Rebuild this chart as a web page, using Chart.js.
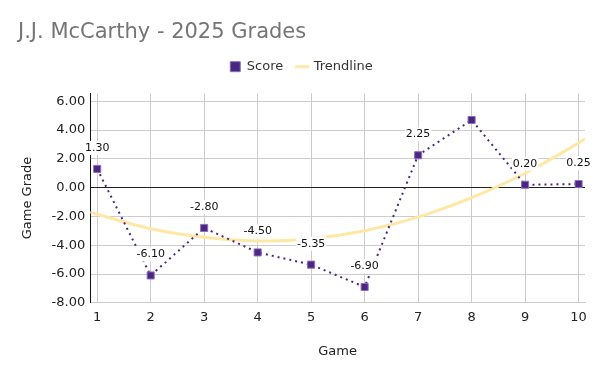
<!DOCTYPE html>
<html>
<head>
<meta charset="utf-8">
<script src="https://cdn.jsdelivr.net/npm/chart.js@4"></script>
<style>
  html, body { margin: 0; padding: 0; background: #fff; }
  #wrap { width: 603px; height: 376px; }
</style>
</head>
<body>
<div id="wrap"><canvas id="grafico"></canvas></div>
<script>
// Dados
const games = [1, 2, 3, 4, 5, 6, 7, 8, 9, 10];
const scores = [1.30, -6.10, -2.80, -4.50, -5.35, -6.90, 2.25, 4.70, 0.20, 0.25];
const scoreLabels = ["1.30", "-6.10", "-2.80", "-4.50", "-5.35", "-6.90", "2.25", "", "0.20", "0.25"];
const trendGames = [0.87, 1, 2, 3, 4, 5, 6, 7, 8, 9, 10, 10.12];
const trendValues = [-1.70, -1.85, -2.85, -3.45, -3.70, -3.55, -3.00, -2.05, -0.70, 1.00, 3.10, 3.40];
const xTicks = [1, 2, 3, 4, 5, 6, 7, 8, 9, 10];
const yTicks = [-8, -6, -4, -2, 0, 2, 4, 6];

const fonte = "'DejaVu Sans', Verdana, sans-serif";

// Espaço extra abaixo da legenda
const espacoLegenda = {
  id: 'espacoLegenda',
  beforeInit(chart) {
    const fitOrig = chart.legend.fit;
    chart.legend.fit = function () {
      fitOrig.bind(chart.legend)();
      this.height += 10;
    };
  }
};

// Rótulos dos pontos
const rotulos = {
  id: 'rotulos',
  afterDatasetsDraw(chart) {
    const meta = chart.getDatasetMeta(0);
    const c = chart.ctx;
    c.save();
    c.font = "11px " + fonte;
    c.textAlign = "center";
    c.textBaseline = "middle";
    meta.data.forEach((p, i) => {
      const txt = scoreLabels[i];
      if (!txt) return;
      const y = p.y - 21;
      const w = c.measureText(txt).width;
      c.fillStyle = "#fff";
      c.fillRect(p.x - w / 2 - 1, y - 7, w + 2, 14);
      c.fillStyle = "#111";
      c.fillText(txt, p.x, y);
    });
    c.restore();
  }
};

const ctx = document.getElementById("grafico").getContext("2d");
new Chart(ctx, {
  type: "line",
  data: {
    datasets: [
      {
        label: "Score",
        data: games.map((g, i) => ({ x: g, y: scores[i] })),
        borderColor: "#4B2683",
        backgroundColor: "#4B2683",
        borderWidth: 2,
        borderDash: [2, 4],
        pointStyle: "rect",
        pointRadius: 5,
        pointBorderColor: "#8b6fb8",
        pointBorderWidth: 1,
        pointBackgroundColor: "#4B2683",
        tension: 0,
        fill: false
      },
      {
        label: "Trendline",
        data: trendGames.map((g, i) => ({ x: g, y: trendValues[i] })),
        borderColor: "#FFE7A6",
        backgroundColor: "#FFE7A6",
        borderWidth: 3,
        pointRadius: 0,
        pointStyle: "line",
        tension: 0.4,
        fill: false
      }
    ]
  },
  options: {
    responsive: true,
    maintainAspectRatio: false,
    animation: false,
    layout: { padding: { left: 18, right: 18, bottom: 17 } },
    plugins: {
      title: {
        display: true,
        text: "J.J. McCarthy - 2025 Grades",
        align: "start",
        color: "#757575",
        font: { family: fonte, size: 21, weight: "normal" },
        padding: { top: 20, bottom: 1 }
      },
      legend: {
        position: "top",
        labels: {
          usePointStyle: true,
          color: "#333",
          font: { family: fonte, size: 13 },
          boxWidth: 10,
          boxHeight: 10,
          padding: 14
        }
      },
      tooltip: { enabled: false }
    },
    scales: {
      x: {
        type: "linear",
        min: 0.87,
        max: 10.12,
        afterBuildTicks: axis => { axis.ticks = xTicks.map(v => ({ value: v })); },
        ticks: { color: "#222", font: { family: fonte, size: 13 }, padding: 7 },
        grid: { color: "#ccc", drawTicks: false },
        border: { color: "#ccc" },
        title: {
          display: true,
          text: "Game",
          color: "#222",
          font: { family: fonte, size: 13 },
          padding: { top: 11, bottom: 0 }
        }
      },
      y: {
        min: -8,
        max: 6.56,
        afterBuildTicks: axis => { axis.ticks = yTicks.map(v => ({ value: v })); },
        ticks: {
          color: "#222",
          font: { family: fonte, size: 13 },
          padding: 5,
          callback: v => v.toFixed(2)
        },
        grid: {
          color: c => (c.tick && c.tick.value === 0 ? "#222" : "#ccc"),
          drawTicks: false
        },
        border: { color: "#111" },
        title: {
          display: true,
          text: "Game Grade",
          color: "#222",
          font: { family: fonte, size: 13 },
          padding: { top: 2, bottom: 11 }
        }
      }
    }
  },
  plugins: [espacoLegenda, rotulos]
});
</script>
</body>
</html>
